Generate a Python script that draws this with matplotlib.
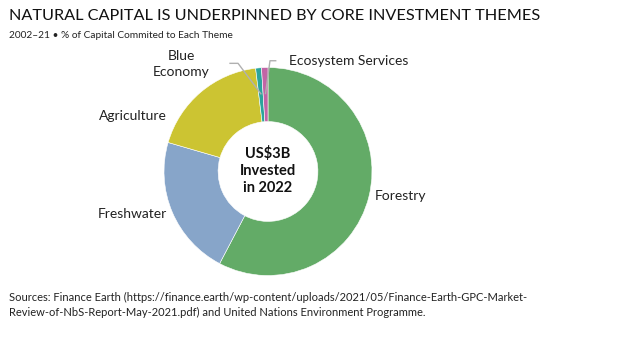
import numpy as np
import matplotlib.pyplot as plt

# share of capital committed to each theme, 2002-21 (%)
themes = ["Forestry", "Freshwater", "Agriculture", "Blue Economy", "Ecosystem Services"]
shares = [57.7, 21.8, 18.6, 0.9, 1.0]
colors = ["#63ab67", "#87a5c9", "#ccc432", "#2ba59b", "#c165a6"]

W, H = 637, 348
plt.rcParams['font.family'] = ['Lato', 'DejaVu Sans']

fig = plt.figure(figsize=(W / 100, H / 100), dpi=100)

def fx(px):
    return px / W

def fy(py):
    return 1 - py / H

# donut axes: centre at (268, 171.5) px, outer radius 104 px, data limits +-1.6
R = 104
cx, cy = 268, 171.5
half = 1.6 * R
ax = fig.add_axes([fx(cx - half), fy(cy + half), 2 * half / W, 2 * half / H])

wedges, _ = ax.pie(shares, colors=colors, startangle=90, counterclock=False,
                   radius=1.0, wedgeprops=dict(width=0.52, edgecolor='white', linewidth=0.4))
ax.set_xlim(-1.6, 1.6)
ax.set_ylim(-1.6, 1.6)
ax.axis('off')

def mid(w, r):
    a = np.deg2rad((w.theta1 + w.theta2) / 2)
    return r * np.cos(a), r * np.sin(a)

# leader lines for the two thin slices
bx, by = mid(wedges[3], 0.75)
ax.plot([-0.365, -0.288, bx], [1.04, 1.04, by], color='#b0b0b0', lw=1, clip_on=False)
ex, ey = mid(wedges[4], 0.75)
ax.plot([0.074, 0.019, ex], [1.065, 1.065, ey], color='#b0b0b0', lw=1, clip_on=False)

lab = dict(fontsize=10, color='#222222', va='center')
fig.text(fx(375), fy(196), "Forestry", ha='left', **lab)
fig.text(fx(167), fy(214), "Freshwater", ha='right', **lab)
fig.text(fx(167), fy(116), "Agriculture", ha='right', **lab)
fig.text(fx(181), fy(64), "Blue\nEconomy", ha='center', linespacing=1.35, **lab)
fig.text(fx(289), fy(61), "Ecosystem Services", ha='left', **lab)

fig.text(fx(cx), fy(cy - 1), "US$3B\nInvested\nin 2022", ha='center', va='center',
         fontsize=10.5, fontweight='bold', color='#111111', linespacing=1.3)

fig.text(fx(9), fy(16), "NATURAL CAPITAL IS UNDERPINNED BY CORE INVESTMENT THEMES",
         ha='left', va='center', fontsize=11.7, color='#111111')
fig.text(fx(9), fy(35), "2002\u201321 \u2022 % of Capital Commited to Each Theme",
         ha='left', va='center', fontsize=7.3, color='#222222')

fig.text(fx(9), fy(305),
         "Sources: Finance Earth (https://finance.earth/wp-content/uploads/2021/05/Finance-Earth-GPC-Market-\n"
         "Review-of-NbS-Report-May-2021.pdf) and United Nations Environment Programme.",
         ha='left', va='center', fontsize=8, color='#222222', linespacing=1.45)

fig.savefig("out.png", dpi=100)
